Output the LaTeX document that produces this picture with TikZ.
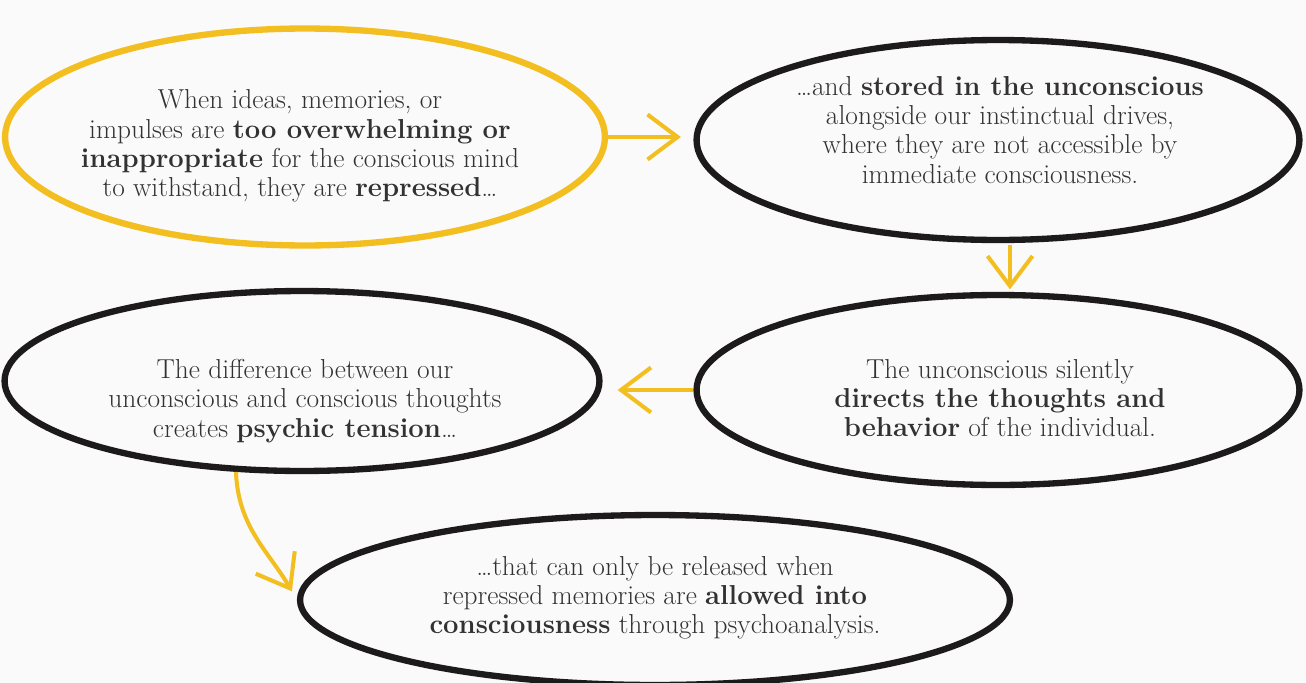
\documentclass[tikz,border=0pt]{standalone}
\usepackage{tikz}
\usetikzlibrary{shapes.geometric,arrows.meta}
\definecolor{mustard}{RGB}{243,190,32}
\definecolor{ink}{RGB}{28,26,26}

\begin{document}
\begin{tikzpicture}[x=0.02cm, y=-0.02cm,
    blob/.style={ellipse, draw=ink, line width=3.6pt, inner sep=0pt},
    txt/.style={align=center, text=ink!90, font=\fontsize{15.6}{16.6}\selectfont},
    arr/.style={-{Straight Barb[length=0.6cm, width=0.9cm]}, mustard, line width=2.3pt}]
    % page
    \fill[black!2] (0,0) rectangle (1306,683);
    \useasboundingbox (0,0) rectangle (1306,683);

    % the five ellipses
    \node[blob, draw=mustard, minimum width=12cm, minimum height=4.34cm] (repress) at (305,137) {};
    \node[blob, minimum width=12.06cm, minimum height=4cm] (stored) at (998,140) {};
    \node[blob, minimum width=11.9cm, minimum height=3.6cm] (tension) at (302,381) {};
    \node[blob, minimum width=12.06cm, minimum height=3.8cm] (directs) at (998,390) {};
    \node[blob, minimum width=14.2cm, minimum height=3.4cm] (release) at (655,600) {};

    % texts
    \node[txt] (repressT) at (300,146) {When ideas, memories, or\\
        impulses are \textbf{too overwhelming or}\\
        \textbf{inappropriate} for the conscious mind\\
        to withstand, they are \textbf{repressed}\ldots};
    \node[txt] (storedT) at (1000,130) {\ldots{}and \textbf{stored in the unconscious}\\
        alongside our instinctual drives,\\
        where they are not accessible by\\
        immediate consciousness.};
    \node[txt] (tensionT) at (305,401) {The difference between our\\
        unconscious and conscious thoughts\\
        creates \textbf{psychic tension}\ldots};
    \node[txt] (directsT) at (1000,398) {The unconscious silently\\
        \textbf{directs the thoughts and}\\
        \textbf{behavior} of the individual.};
    \node[txt] (releaseT) at (655,598) {\ldots{}that can only be released when\\
        repressed memories are \textbf{allowed into}\\
        \textbf{consciousness} through psychoanalysis.};

    % yellow arrows
    \draw[arr, shorten >=0.25cm] (repress.east) -- (repress.east -| stored.west);
    \draw[arr, shorten <=1pt, shorten >=0.05cm] ([xshift=0.24cm]stored.south) -- ([xshift=0.24cm]stored.south |- directs.north);
    \draw[arr, shorten >=0.3cm] (directs.west) -- (directs.west -| tension.east);
    \draw[arr, shorten >=0.2cm] (tension.-126) to[out=-88, in=120] (release.west);
\end{tikzpicture}
\end{document}
